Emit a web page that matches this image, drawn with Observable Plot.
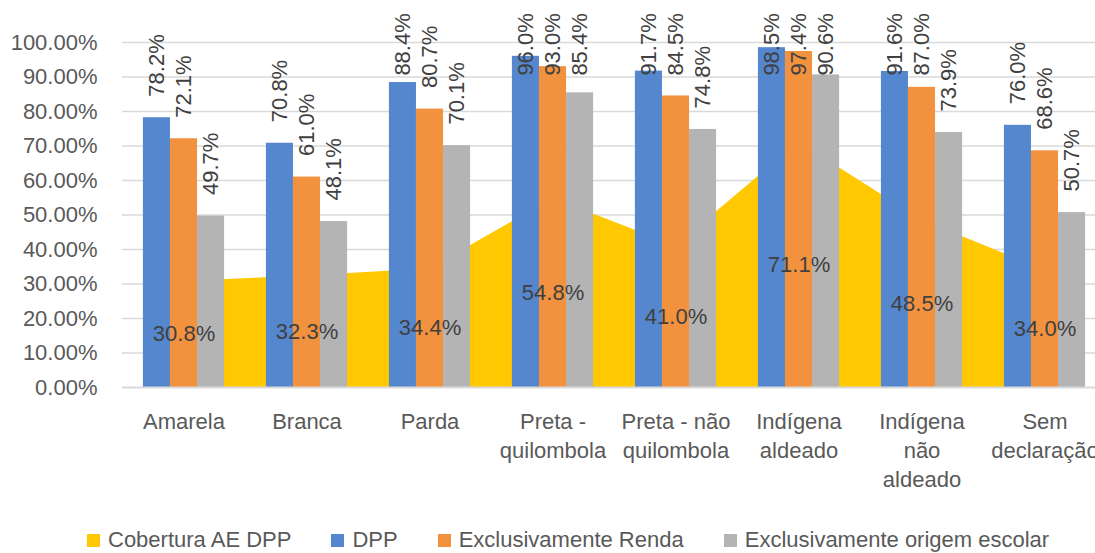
<!DOCTYPE html>
<html>
<head>
<meta charset="utf-8">
<script src="https://cdn.jsdelivr.net/npm/d3@7"></script>
<script src="https://cdn.jsdelivr.net/npm/@observablehq/plot@0.6"></script>
<style>
  html, body { margin: 0; padding: 0; background: #fff; overflow: hidden; }
  body { width: 1095px; height: 553px; font-family: "Liberation Sans", Arial, sans-serif; }
  #legend { height: 22px; padding-top: 9px; padding-left: 87px; display: flex; align-items: center; gap: 40px; font-size: 22px; line-height: 22px; color: #595959; white-space: nowrap; }
  .item { display: flex; align-items: center; }
  .sw { width: 13px; height: 13px; margin-right: 8px; }
</style>
</head>
<body>
<div id="chart"></div>
<div id="legend"></div>
<script>
const categories = ["Amarela", "Branca", "Parda", "Preta -\nquilombola", "Preta - não\nquilombola", "Indígena\naldeado", "Indígena\nnão\naldeado", "Sem\ndeclaração"];
const cobertura = [30.8, 32.3, 34.4, 54.8, 41.0, 71.1, 48.5, 34.0];
const dpp = [78.2, 70.8, 88.4, 96.0, 91.7, 98.5, 91.6, 76.0];
const renda = [72.1, 61.0, 80.7, 93.0, 84.5, 97.4, 87.0, 68.6];
const origem = [49.7, 48.1, 70.1, 85.4, 74.8, 90.6, 73.9, 50.7];
const seriesNames = ["Cobertura AE DPP", "DPP", "Exclusivamente Renda", "Exclusivamente origem escolar"];
const seriesColors = ["#FFC800", "#5587CE", "#F2923F", "#B4B4B4"];
const yTicks = [0, 10, 20, 30, 40, 50, 60, 70, 80, 90, 100];

const areaData = cobertura.map((v, i) => ({i, v}));
const barSeries = [dpp, renda, origem];
const barW = 0.22, groupStart = -0.33;
const barData = [];
barSeries.forEach((arr, j) => arr.forEach((v, i) => barData.push({
  i, j, v, series: seriesNames[j + 1],
  x1: i + groupStart + j * barW, x2: i + groupStart + (j + 1) * barW
})));

const chart = Plot.plot({
  width: 1095, height: 520,
  marginLeft: 122, marginRight: 0, marginTop: 42, marginBottom: 133,
  style: {fontFamily: "'Liberation Sans', Arial, sans-serif", background: "#fff", overflow: "visible"},
  x: {type: "linear", domain: [-0.5, 7.5], range: [122, 1106], axis: null},
  y: {domain: [0, 100], axis: null},
  color: {domain: seriesNames, range: seriesColors},
  marks: [
    Plot.gridY(yTicks.filter(d => d > 0), {stroke: "#D9D9D9", strokeOpacity: 1, strokeWidth: 1.5}),
    Plot.axisY(yTicks, {label: null, tickSize: 0, tickPadding: 25, tickFormat: d => d.toFixed(2) + "%", fontSize: 22, fill: "#595959"}),
    Plot.areaY(areaData, {x: "i", y: "v", fill: seriesColors[0]}),
    Plot.rectY(barData, {x1: "x1", x2: "x2", y: "v", fill: "series"}),
    Plot.ruleY([0], {stroke: "#D9D9D9", strokeWidth: 2}),
    Plot.text(areaData, {x: "i", y: d => d.v / 2, text: d => d.v.toFixed(1) + "%", fontSize: 22, fill: "#404040"}),
    Plot.text(barData, {x: d => (d.x1 + d.x2) / 2, y: d => Math.min(d.v + 6.1, 90.4), text: d => d.v.toFixed(1) + "%", rotate: -90, textAnchor: "start", fontSize: 22, fill: "#404040"}),
    Plot.axisX(d3.range(categories.length), {label: null, tickFormat: i => categories[i], tickSize: 0, tickPadding: 21, lineHeight: 1.32, fontSize: 22, fill: "#595959"})
  ]
});
document.getElementById("chart").appendChild(chart);

const legend = document.getElementById("legend");
seriesNames.forEach((name, k) => {
  const it = document.createElement("div");
  it.className = "item";
  const sw = document.createElement("span");
  sw.className = "sw";
  sw.style.background = seriesColors[k];
  const tx = document.createElement("span");
  tx.textContent = name;
  it.appendChild(sw); it.appendChild(tx);
  legend.appendChild(it);
});
</script>
</body>
</html>
